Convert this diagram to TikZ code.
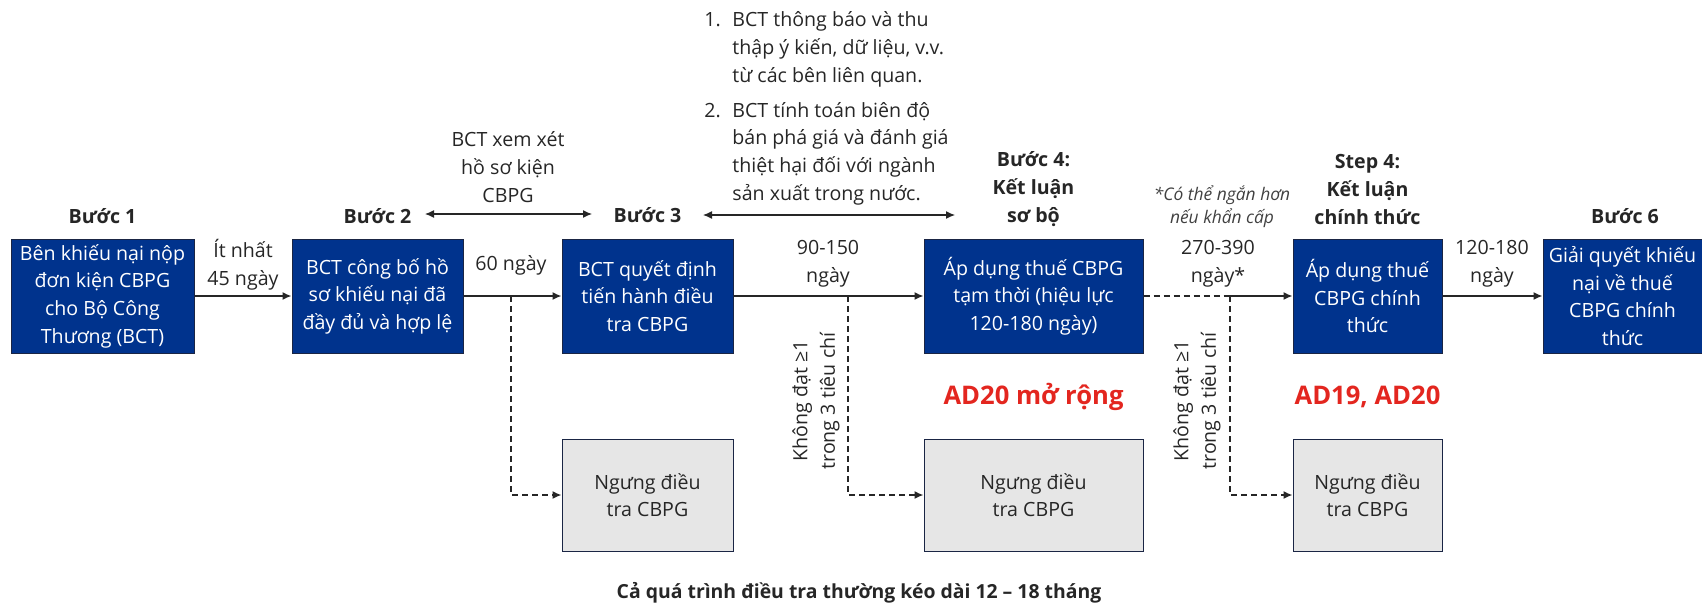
\documentclass[tikz,border=0pt]{standalone}
\usepackage{fontspec}
\setmainfont{Open Sans}
\usepackage{xcolor}
\usetikzlibrary{arrows.meta}
\definecolor{stepblue}{HTML}{00338D}
\definecolor{stepline}{HTML}{1A2544}
\definecolor{stopgray}{HTML}{E6E6E6}
\definecolor{inktext}{HTML}{262626}
\definecolor{notegray}{HTML}{404040}
\definecolor{adred}{HTML}{E3261F}

\begin{document}
\begin{tikzpicture}[
  x=0.5pt, y=-0.5pt,
  box/.style={draw=stepline, line width=0.5pt, fill=stepblue, text=white, align=center,
    minimum height=57pt, inner sep=0pt, font=\fontsize{9.8}{13.8}\selectfont},
  stopbox/.style={box, fill=stopgray, text=inktext, minimum height=56pt},
  lbl/.style={align=center, text=inktext, inner sep=1pt, font=\fontsize{9.8}{13.8}\selectfont},
  steplbl/.style={lbl, font=\fontsize{9.8}{14}\selectfont\bfseries},
  adlbl/.style={lbl, text=adred, font=\fontsize{12.8}{15}\selectfont\bfseries},
  arr/.style={-{Latex[length=4.5pt,width=4pt]}, line width=0.75pt, draw=inktext},
  darr/.style={arr, dash pattern=on 3pt off 2pt},
  biarr/.style={{Latex[length=4.5pt,width=4pt]}-{Latex[length=4.5pt,width=4pt]},
    line width=0.6pt, draw=inktext}
]
\useasboundingbox (0,0) rectangle (1702,605);

\node[box, minimum width=91.5pt] (s1) at (102.5,296) {Bên khiếu nại nộp\\đơn kiện CBPG\\cho Bộ Công\\Thương (BCT)};
\node[box, minimum width=85.5pt] (s2) at (377.5,296) {BCT công bố hồ\\sơ khiếu nại đã\\đầy đủ và hợp lệ};
\node[box, minimum width=85.5pt] (s3) at (647.5,296) {BCT quyết định\\tiến hành điều\\tra CBPG};
\node[box, minimum width=109.5pt] (s4) at (1033.5,296) {Áp dụng thuế CBPG\\tạm thời (hiệu lực\\120-180 ngày)};
\node[box, minimum width=74.5pt] (s5) at (1367.5,296) {Áp dụng thuế\\CBPG chính\\thức};
\node[box, minimum width=79.5pt] (s6) at (1622.5,296) {Giải quyết khiếu\\nại về thuế\\CBPG chính\\thức};

\node[stopbox, minimum width=85.5pt] (stop1) at (647.5,495) {Ngưng điều\\tra CBPG};
\node[stopbox, minimum width=109.5pt] (stop2) at (1033.5,495) {Ngưng điều\\tra CBPG};
\node[stopbox, minimum width=74.5pt] (stop3) at (1367.5,495) {Ngưng điều\\tra CBPG};

\node[steplbl] (lab1) at (102.5,216) {Bước 1};
\node[steplbl] (lab2) at (377.5,216) {Bước 2};
\node[steplbl] (lab3) at (647.5,215) {Bước 3};
\node[steplbl] (lab4) at (1033.5,189) {Bước 4:\\Kết luận\\sơ bộ};
\node[steplbl] (lab5) at (1367.5,189) {Step 4:\\Kết luận\\chính thức};
\node[steplbl] (lab6) at (1625,216) {Bước 6};

\node[lbl] (t12) at (243,265) {Ít nhất\\45 ngày};
\node[lbl] (t23) at (511,265) {60 ngày};
\node[lbl] (t34) at (828,264) {90-150\\ngày};
\node[lbl] (t45) at (1218,264) {270-390\\ngày*};
\node[lbl] (t56) at (1492,264) {120-180\\ngày};
\node[lbl, text=notegray, font=\fontsize{8.7}{11.5}\selectfont\itshape] (urgent) at (1222,207) {*Có thể ngắn hơn\\nếu khẩn cấp};

\node[lbl] (review) at (508,167) {BCT xem xét\\hồ sơ kiện\\CBPG};
\node[lbl, anchor=west, align=left] (tasks) at (702,108) {\begin{tabular}{@{}p{14pt}@{}l@{}}
  1. & BCT thông báo và thu\\
     & thập ý kiến, dữ liệu, v.v.\\
     & từ các bên liên quan.\\[3.75pt]
  2. & BCT tính toán biên độ\\
     & bán phá giá và đánh giá\\
     & thiệt hại đối với ngành\\
     & sản xuất trong nước.
\end{tabular}};

\node[lbl, rotate=90] (fail1) at (816,401) {Không đạt ≥1\\trong 3 tiêu chí};
\node[lbl, rotate=90] (fail2) at (1197,401) {Không đạt ≥1\\trong 3 tiêu chí};

\node[adlbl] (ad1) at (1033.5,397) {AD20 mở rộng};
\node[adlbl] (ad2) at (1367.5,397) {AD19, AD20};

\node[lbl, font=\fontsize{9.7}{12}\selectfont\bfseries] (total) at (859,593) {Cả quá trình điều tra thường kéo dài 12 – 18 tháng};

\coordinate (rv1) at (425,214);
\coordinate (rv2) at (592,214);
\coordinate (iv1) at (703,215);
\coordinate (iv2) at (955,215);
\coordinate (br1) at (511,296);
\coordinate (br2) at (848,296);
\coordinate (br3) at (1230,296);

\draw[arr] (s1) -- (s2);
\draw[arr] (s2) -- (s3);
\draw[arr] (s3) -- (s4);
\draw[darr, -] (s4) -- (br3);
\draw[arr] (br3) -- (s5);
\draw[arr] (s5) -- (s6);
\draw[darr] (br1) |- (stop1);
\draw[darr] (br2) |- (stop2);
\draw[darr] (br3) |- (stop3);
\draw[biarr] (rv1) -- (rv2);
\draw[biarr] (iv1) -- (iv2);
\end{tikzpicture}
\end{document}
